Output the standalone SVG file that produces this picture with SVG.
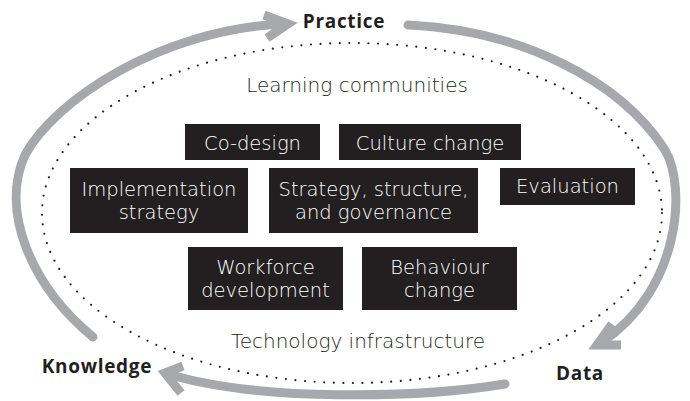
<svg xmlns="http://www.w3.org/2000/svg" width="690" height="401" viewBox="0 0 690 401">
<style>
.bg{fill:#ffffff}
.arc{fill:none;stroke:#a7a8ab;stroke-width:9;stroke-linecap:round}
.head{fill:none;stroke:#a7a8ab;stroke-width:9;stroke-linejoin:miter;stroke-miterlimit:10;stroke-linecap:butt}
.dots{fill:none;stroke:#231f20;stroke-width:2.2;stroke-linecap:round;stroke-dasharray:0 9.6}
.box{fill:#231f20}
.bt{fill:#ffffff;font-family:"DejaVu Sans","Open Sans",sans-serif;font-weight:200;font-size:19.5px;text-anchor:middle}
.lt{fill:#231f20;font-family:"DejaVu Sans","Open Sans",sans-serif;font-weight:200;font-size:20px;text-anchor:middle}
.lb{fill:#231f20;font-family:"Open Sans","Liberation Sans",sans-serif;font-weight:700;font-size:19px;letter-spacing:0.7px;text-anchor:middle}
</style>
<rect class="bg" x="0" y="0" width="690" height="401"/>
<g id="connectors">
<ellipse class="dots" cx="352" cy="213" rx="310" ry="170"/>
<path class="arc" d="M93,337 C30,285 0,210 25,155 C55,100 160,30 282,24"/>
<polyline class="head" points="264,15 288,24 267,38"/>
<path class="arc" d="M408,25 C520,30 620,80 665,150 C687,187 680,290 602,342"/>
<polyline class="head" points="612,324 597,345 621,345"/>
<path class="arc" d="M505,384 C420,398 260,402 168,374"/>
<polyline class="head" points="183,366 165,373 181,393"/>
</g>
<g id="practice"><text class="lb" x="344" y="28">Practice</text></g>
<g id="knowledge"><text class="lb" x="97" y="373">Knowledge</text></g>
<g id="data"><text class="lb" x="580" y="380">Data</text></g>
<g id="learning-communities"><text class="lt" x="357" y="92">Learning communities</text></g>
<g id="technology-infrastructure"><text class="lt" x="358" y="348">Technology infrastructure</text></g>
<g id="co-design"><rect class="box" x="185" y="124" width="135" height="36"/><text class="bt" x="252.5" y="150">Co-design</text></g>
<g id="culture-change"><rect class="box" x="339" y="124" width="182" height="36"/><text class="bt" x="430" y="150">Culture change</text></g>
<g id="implementation-strategy"><rect class="box" x="70" y="168" width="178" height="65"/><text class="bt" x="159" y="196">Implementation</text><text class="bt" x="159" y="219">strategy</text></g>
<g id="strategy-structure-governance"><rect class="box" x="269" y="168" width="209" height="65"/><text class="bt" x="373.5" y="196">Strategy, structure,</text><text class="bt" x="373.5" y="219">and governance</text></g>
<g id="evaluation"><rect class="box" x="500" y="168" width="135" height="37"/><text class="bt" x="567.5" y="193">Evaluation</text></g>
<g id="workforce-development"><rect class="box" x="188" y="247" width="155" height="63"/><text class="bt" x="265.5" y="274">Workforce</text><text class="bt" x="265.5" y="297">development</text></g>
<g id="behaviour-change"><rect class="box" x="362" y="247" width="155" height="63"/><text class="bt" x="439.5" y="274">Behaviour</text><text class="bt" x="439.5" y="297">change</text></g>
</svg>
